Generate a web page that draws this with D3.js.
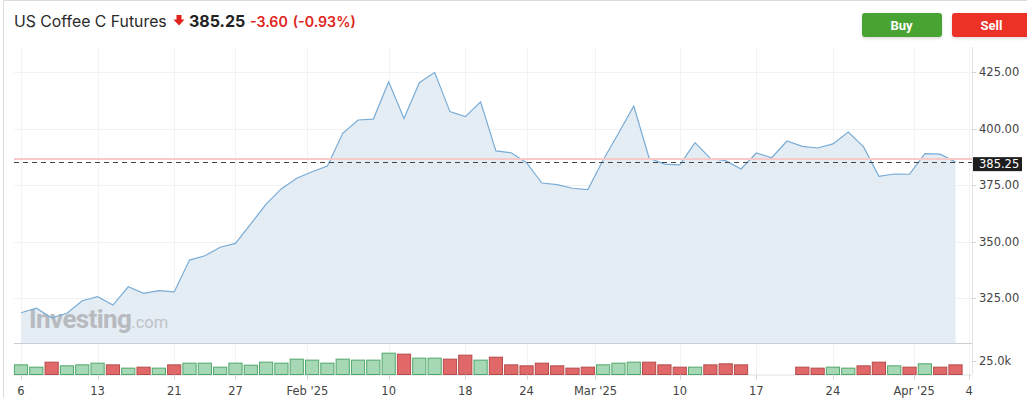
<!DOCTYPE html>
<html>
<head>
<meta charset="utf-8">
<script src="https://cdn.jsdelivr.net/npm/d3@7"></script>
<style>
  body { margin: 0; background: #fff; }
  svg { display: block; }
  .axis-label { font-family: "DejaVu Sans", Verdana, sans-serif; font-size: 11.5px; fill: #444; }
</style>
</head>
<body>
<svg id="chart" width="1027" height="398"></svg>
<script>
// trading days shown on the chart
const dates = [
  "2025-01-06","2025-01-07","2025-01-08","2025-01-09","2025-01-10",
  "2025-01-13","2025-01-14","2025-01-15","2025-01-16","2025-01-17",
  "2025-01-21","2025-01-22","2025-01-23","2025-01-24",
  "2025-01-27","2025-01-28","2025-01-29","2025-01-30","2025-01-31",
  "2025-02-03","2025-02-04","2025-02-05","2025-02-06","2025-02-07",
  "2025-02-10","2025-02-11","2025-02-12","2025-02-13","2025-02-14",
  "2025-02-18","2025-02-19","2025-02-20","2025-02-21",
  "2025-02-24","2025-02-25","2025-02-26","2025-02-27","2025-02-28",
  "2025-03-03","2025-03-04","2025-03-05","2025-03-06","2025-03-07",
  "2025-03-10","2025-03-11","2025-03-12","2025-03-13","2025-03-14",
  "2025-03-17","2025-03-18","2025-03-19","2025-03-20","2025-03-21",
  "2025-03-24","2025-03-25","2025-03-26","2025-03-27","2025-03-28",
  "2025-03-31","2025-04-01","2025-04-02","2025-04-03"
];

const closes = [
  318.6, 320.6, 316.4, 318.4, 323.9,
  325.7, 322.0, 330.1, 327.2, 328.4,
  327.8, 341.9, 343.8, 347.6,
  349.3, 357.9, 366.7, 373.5, 378.1,
  381.0, 383.5, 398.0, 403.9, 404.3,
  420.8, 404.6, 420.4, 425.0, 407.6,
  405.4, 411.9, 390.2, 389.4,
  385.0, 376.0, 375.3, 373.7, 373.1,
  386.2, 398.0, 410.1, 387.1, 384.4,
  384.0, 393.9, 386.9, 385.9, 382.2,
  389.3, 387.2, 394.6, 392.2, 391.5,
  393.3, 398.6, 392.0, 379.0, 380.0,
  379.9, 389.0, 388.8, 385.25
];

// volume in contracts, null where no bar is shown
const volumes = [
  17600, 13400, 22500, 15800, 17600,
  20700, 17600, 11600, 13400, 11600,
  17600, 20700, 20700, 13400,
  20700, 17000, 22500, 20700, 28000,
  26200, 20700, 28000, 26200, 26200,
  38900, 37100, 29800, 29800, 28000,
  35300, 26200, 31600, 17600,
  15800, 20700, 15800, 11600, 13400,
  17600, 20700, 22500, 22500, 17600,
  13400, 13400, 17600, 19500, 17600,
  null, null, null, 13400, 11600,
  13400, 11600, 15800, 22500, 15800,
  13400, 19500, 13400, 17600
];

// 1 = up day (green bar), 0 = down day (red bar)
const volUp = [
  1,1,0,1,1,
  1,0,1,0,1,
  0,1,1,1,
  1,1,1,1,1,
  1,1,1,1,1,
  1,0,1,1,0,
  0,1,0,0,
  0,0,0,0,0,
  1,1,1,0,0,
  0,1,0,0,0,
  0,0,0,0,0,
  1,1,0,0,1,
  0,1,0,0
];

const priceTicks = [325, 350, 375, 400, 425];
const volTicks = [25000];
// x axis ticks, position given in trading-day index
const xTickPos = [0, 5, 10, 14, 18.7, 24, 29, 33, 37.5, 43, 48, 53, 58.3, 61.9];
const xTickLabels = ["6", "13", "21", "27", "Feb '25", "10", "18", "24", "Mar '25", "10", "17", "24", "Apr '25", "4"];

const title = "US Coffee C Futures";
const lastPrice = 385.25;
const change = "-3.60";
const changePct = "(-0.93%)";
const markerLevel = 386.6;

const svg = d3.select("#chart");

const plotLeft = 14, plotRight = 972, plotTop = 47, plotBottom = 343;
const volBottom = 374.5;

const x = d3.scaleLinear().domain([0, dates.length - 1]).range([21, 955.5]);
const y = d3.scaleLinear().domain([325, 425]).range([298.3, 72.3]);
const yVol = d3.scaleLinear().domain([0, 25000]).range([volBottom, 360.8]);

// outer frame
svg.append("path")
  .attr("d", "M3.5,398 V0.5 H1027")
  .attr("fill", "none")
  .attr("stroke", "#dcdcdc");

// grid
const grid = svg.append("g");
grid.selectAll("line.h")
  .data(priceTicks)
  .join("line")
  .attr("x1", plotLeft).attr("x2", plotRight)
  .attr("y1", d => Math.round(y(d)) + 0.5).attr("y2", d => Math.round(y(d)) + 0.5)
  .attr("stroke", "#f1f2f4");
grid.selectAll("line.v")
  .data(xTickPos)
  .join("line")
  .attr("x1", d => Math.round(x(d)) + 0.5).attr("x2", d => Math.round(x(d)) + 0.5)
  .attr("y1", plotTop).attr("y2", volBottom)
  .attr("stroke", "#f1f2f4");

// area + line
const area = d3.area()
  .x((d, i) => x(i))
  .y0(plotBottom)
  .y1(d => y(d));
const line = d3.line()
  .x((d, i) => x(i))
  .y(d => y(d));

svg.append("path")
  .datum(closes)
  .attr("d", area)
  .attr("fill", "#e4ecf4");

// watermark
const wm = svg.append("text")
  .attr("x", 29).attr("y", 328)
  .attr("font-family", "Roboto, 'Liberation Sans', sans-serif");
wm.append("tspan")
  .attr("font-size", 26).attr("font-weight", "bold")
  .attr("letter-spacing", -0.6)
  .attr("fill", "#b7babe")
  .text("Investing");
wm.append("tspan")
  .attr("font-size", 16.5)
  .attr("fill", "#bfc3c7")
  .text(".com");

svg.append("path")
  .datum(closes)
  .attr("d", line)
  .attr("fill", "none")
  .attr("stroke", "#79acd6")
  .attr("stroke-width", 1.2);

// marker lines
svg.append("line")
  .attr("x1", plotLeft).attr("x2", plotRight)
  .attr("y1", y(markerLevel)).attr("y2", y(markerLevel))
  .attr("stroke", "#f7c9c9")
  .attr("stroke-width", 2);
svg.append("line")
  .attr("x1", plotLeft).attr("x2", plotRight)
  .attr("y1", Math.round(y(lastPrice)) + 0.5).attr("y2", Math.round(y(lastPrice)) + 0.5)
  .attr("stroke", "#444")
  .attr("stroke-dasharray", "5,4");

// panel borders
svg.append("line")
  .attr("x1", plotLeft).attr("x2", plotRight)
  .attr("y1", plotBottom + 0.5).attr("y2", plotBottom + 0.5)
  .attr("stroke", "#c9ced4");
svg.append("line")
  .attr("x1", plotLeft).attr("x2", plotRight)
  .attr("y1", volBottom + 0.5).attr("y2", volBottom + 0.5)
  .attr("stroke", "#dfe2e6");
svg.append("line")
  .attr("x1", plotRight + 0.5).attr("x2", plotRight + 0.5)
  .attr("y1", plotTop).attr("y2", volBottom)
  .attr("stroke", "#e3e5e8");

// volume bars
const barW = 13.2;
svg.append("g")
  .selectAll("rect")
  .data(volumes.map((v, i) => ({ v, i, up: volUp[i] })).filter(d => d.v != null))
  .join("rect")
  .attr("x", d => x(d.i) - barW / 2)
  .attr("y", d => yVol(d.v))
  .attr("width", barW)
  .attr("height", d => volBottom - yVol(d.v))
  .attr("fill", d => d.up ? "#a7d8b5" : "#e06868")
  .attr("stroke", d => d.up ? "#4fa76a" : "#b54c4c")
  .attr("stroke-width", 1);

// right price axis
const yAxis = svg.append("g").attr("class", "axis-label");
yAxis.selectAll("line")
  .data(priceTicks)
  .join("line")
  .attr("x1", plotRight).attr("x2", plotRight + 4)
  .attr("y1", d => Math.round(y(d)) + 0.5).attr("y2", d => Math.round(y(d)) + 0.5)
  .attr("stroke", "#d0d3d7");
yAxis.selectAll("text")
  .data(priceTicks)
  .join("text")
  .attr("x", 979)
  .attr("y", d => y(d))
  .attr("dy", "0.36em")
  .text(d => d3.format(".2f")(d));

const vAxis = svg.append("g").attr("class", "axis-label");
vAxis.selectAll("line")
  .data(volTicks)
  .join("line")
  .attr("x1", plotRight).attr("x2", plotRight + 4)
  .attr("y1", d => Math.round(yVol(d)) + 0.5).attr("y2", d => Math.round(yVol(d)) + 0.5)
  .attr("stroke", "#d0d3d7");
vAxis.selectAll("text")
  .data(volTicks)
  .join("text")
  .attr("x", 979)
  .attr("y", d => yVol(d))
  .attr("dy", "0.36em")
  .text(d => (d / 1000).toFixed(1) + "k");

// last price label
svg.append("rect")
  .attr("x", plotRight + 1).attr("y", y(lastPrice) - 5)
  .attr("width", 49).attr("height", 14)
  .attr("fill", "#1e1e1e");
svg.append("text")
  .attr("class", "axis-label")
  .attr("x", 979).attr("y", y(lastPrice) + 2)
  .attr("dy", "0.36em")
  .style("fill", "#fff")
  .text(lastPrice.toFixed(2));

// x axis
const xAxis = svg.append("g").attr("class", "axis-label");
xAxis.selectAll("line")
  .data(xTickPos)
  .join("line")
  .attr("x1", d => Math.round(x(d)) + 0.5).attr("x2", d => Math.round(x(d)) + 0.5)
  .attr("y1", volBottom).attr("y2", volBottom + 5)
  .attr("stroke", "#d0d3d7");
xAxis.selectAll("text")
  .data(xTickPos)
  .join("text")
  .attr("x", d => x(d))
  .attr("y", 395)
  .attr("text-anchor", "middle")
  .text((d, i) => xTickLabels[i]);

// header
svg.append("text")
  .attr("x", 14).attr("y", 27)
  .attr("font-family", "Inter, 'Liberation Sans', sans-serif")
  .attr("font-size", 15.8)
  .attr("fill", "#2a2a2a")
  .text(title);
svg.append("path")
  .attr("d", "M176.5,15 h5 v4.5 h3 l-5.5,6 l-5.5,-6 h3 z")
  .attr("fill", "#e0241b");
svg.append("text")
  .attr("x", 189).attr("y", 27)
  .attr("font-family", "Inter, 'Liberation Sans', sans-serif")
  .attr("font-size", 16)
  .attr("font-weight", "bold")
  .attr("fill", "#222")
  .text(lastPrice.toFixed(2));
const chg = svg.append("text")
  .attr("x", 250).attr("y", 27)
  .attr("font-family", "Inter, 'Liberation Sans', sans-serif")
  .attr("font-size", 14.2)
  .attr("font-weight", 600)
  .attr("fill", "#e0241b");
chg.append("tspan").text(change);
chg.append("tspan").attr("dx", 5).text(changePct);

// buttons
const defs = svg.append("defs");
const f = defs.append("filter").attr("id", "sh").attr("x", "-20%").attr("y", "-20%").attr("width", "140%").attr("height", "160%");
f.append("feDropShadow").attr("dx", 0).attr("dy", 1.5).attr("stdDeviation", 1.5).attr("flood-color", "#000").attr("flood-opacity", 0.15);

const buttons = [
  { label: "Buy", x: 862, w: 80, color: "#4aa331" },
  { label: "Sell", x: 952, w: 85, color: "#ec3226" }
];
const btn = svg.append("g").selectAll("g").data(buttons).join("g");
btn.append("rect")
  .attr("x", d => d.x).attr("y", 13)
  .attr("width", d => d.w).attr("height", 24)
  .attr("rx", 3)
  .attr("fill", d => d.color)
  .attr("filter", "url(#sh)");
btn.append("text")
  .attr("x", d => d.x + 39.5).attr("y", 25)
  .attr("dy", "0.36em")
  .attr("text-anchor", "middle")
  .attr("font-family", "Roboto, 'Liberation Sans', sans-serif")
  .attr("font-weight", "bold")
  .attr("font-size", 13)
  .attr("fill", "#fff")
  .text(d => d.label);
</script>
</body>
</html>
